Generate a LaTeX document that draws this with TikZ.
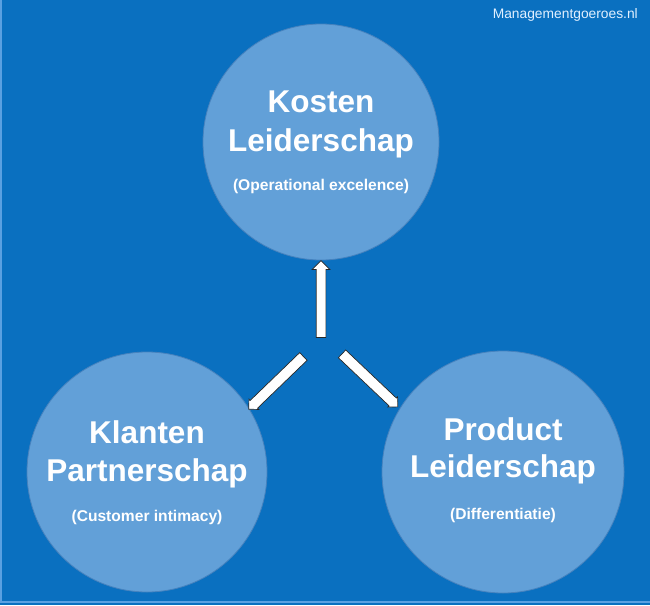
\documentclass[tikz,border=0pt]{standalone}
\usepackage{fontspec}
\setmainfont{Liberation Sans}
\usetikzlibrary{shapes.arrows}
\definecolor{bg}{RGB}{10,112,192}
\definecolor{circfill}{RGB}{98,160,216}
\definecolor{circedge}{RGB}{70,130,190}
\definecolor{rim}{RGB}{90,160,225}
\definecolor{wm}{RGB}{225,240,255}
\tikzset{
  circ/.style={circle, fill=circfill, draw=circedge, line width=0.8pt, minimum size=#1, inner sep=0pt},
  title/.style={text=white, font=\fontsize{31.5}{31.5}\selectfont\bfseries, anchor=base, inner sep=0pt},
  sub/.style={text=white, font=\fontsize{15.6}{15.6}\selectfont\bfseries, anchor=base, inner sep=0pt},
  barrow/.style={single arrow, draw=black!85, line width=0.7pt, fill=white, inner xsep=0pt, inner ysep=0pt,
     text height=#1, text depth=#1, text width=0pt, single arrow tip angle=90},
}
\begin{document}
\begin{tikzpicture}[x=1pt,y=-1pt]
\fill[bg] (0,0) rectangle (650,605);
\useasboundingbox (0,0) rectangle (650,605);
\draw[rim, line width=2pt] (1,0) -- (1,602) -- (650,602);

\node[text=wm, font=\fontsize{13.8}{13.8}\selectfont, anchor=base east, inner sep=0pt] (wmark) at (638,18) {Managementgoeroes.nl};

% circles
\node[circ=236pt] (kost) at (321,142) {};
\node[circ=240pt] (klan) at (147,472) {};
\node[circ=242pt] (prod) at (503,472) {};

% texts
\node[title] (k1) at (321,112) {Kosten};
\node[title] (k2) at (321,151) {Leiderschap};
\node[sub]   (k3) at (321,190) {(Operational excelence)};

\node[title] (l1) at (147,443) {Klanten};
\node[title] (l2) at (147,481) {Partnerschap};
\node[sub]   (l3) at (147,521) {(Customer intimacy)};

\node[title] (p1) at (503,440) {Product};
\node[title] (p2) at (503,477) {Leiderschap};
\node[sub]   (p3) at (503,519) {(Differentiatie)};

% arrows
\node[barrow=4.5pt, single arrow head extend=4pt, minimum height=77pt, rotate=90] (aup) at (321,301.5) {};
\node[barrow=5pt, single arrow head extend=1.8pt, minimum height=76pt, rotate=224] (aleft) at (278,381) {};
\node[barrow=5pt, single arrow head extend=1.8pt, minimum height=77pt, rotate=-43.5] (aright) at (368,378.5) {};
\end{tikzpicture}
\end{document}
